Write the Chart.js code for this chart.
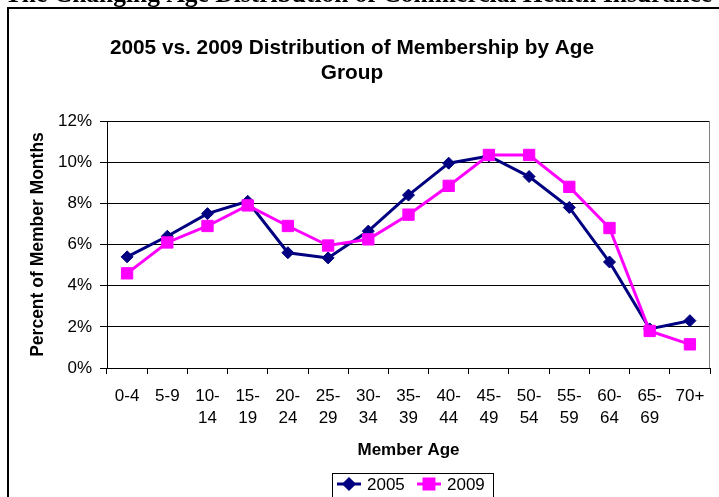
<!DOCTYPE html>
<html>
<head>
<meta charset="utf-8">
<script src="https://cdn.jsdelivr.net/npm/chart.js@4.4.0/dist/chart.umd.min.js"></script>
<style>
  html, body { margin: 0; padding: 0; background: #fff; overflow: hidden; }
  #wrap { width: 719px; height: 497px; }
</style>
</head>
<body>
<div id="wrap"><canvas id="ageChart" width="719" height="497"></canvas></div>
<script>
const ageGroups = ['0-4', '5-9', ['10-', '14'], ['15-', '19'], ['20-', '24'], ['25-', '29'], ['30-', '34'],
    ['35-', '39'], ['40-', '44'], ['45-', '49'], ['50-', '54'], ['55-', '59'], ['60-', '64'], ['65-', '69'], '70+'];
const share2005 = [5.4, 6.4, 7.5, 8.1, 5.6, 5.35, 6.65, 8.4, 9.95, 10.3, 9.3, 7.8, 5.15, 1.9, 2.3];
const share2009 = [4.6, 6.1, 6.9, 7.9, 6.9, 5.95, 6.25, 7.45, 8.85, 10.35, 10.35, 8.8, 6.8, 1.8, 1.15];
const yTicks = [0, 2, 4, 6, 8, 10, 12];
const titleLines = ['2005 vs. 2009 Distribution of Membership by Age', 'Group'];

const FONT = 'Arial, "Liberation Sans", sans-serif';

// page heading (cut off at the top), outer frame, chart title, plot right edge, legend box
const decorations = {
    id: 'decorations',
    beforeDraw(chart) {
        const ctx = chart.ctx;
        ctx.save();
        ctx.fillStyle = '#fff';
        ctx.fillRect(0, 0, chart.width, chart.height);
        ctx.fillStyle = '#000';
        ctx.font = 'bold 25.5px "Times New Roman", "Liberation Serif", serif';
        ctx.textAlign = 'right';
        ctx.textBaseline = 'alphabetic';
        ctx.fillText('The Changing Age Distribution of Commercial Health Insurance', 712, 2);
        ctx.strokeStyle = '#000';
        ctx.lineWidth = 2;
        ctx.strokeRect(8, 8, 800, 600);

        ctx.font = 'bold 20.8px ' + FONT;
        ctx.textAlign = 'center';
        ctx.textBaseline = 'middle';
        titleLines.forEach((t, i) => ctx.fillText(t, 352, 48 + i * 25));
        ctx.restore();
    },
    afterDraw(chart) {
        const ctx = chart.ctx;
        const a = chart.chartArea;
        ctx.save();
        ctx.strokeStyle = '#808080';
        ctx.lineWidth = 1;
        ctx.beginPath();
        ctx.moveTo(a.right - 0.5, a.top);
        ctx.lineTo(a.right - 0.5, a.bottom);
        ctx.stroke();

        // legend
        ctx.strokeStyle = '#000';
        ctx.strokeRect(332.5, 473.5, 161, 40);
        const cy = 484;
        const items = [
            { x: 337, label: '2005', color: '#000080', style: 'rectRot', r: 5 },
            { x: 417, label: '2009', color: '#FF00FF', style: 'rect', r: 7 }
        ];
        ctx.font = '17px ' + FONT;
        ctx.textBaseline = 'middle';
        ctx.textAlign = 'left';
        items.forEach(it => {
            ctx.strokeStyle = it.color;
            ctx.lineWidth = 3;
            ctx.beginPath();
            ctx.moveTo(it.x, cy);
            ctx.lineTo(it.x + 24, cy);
            ctx.stroke();
            ctx.fillStyle = it.color;
            Chart.helpers.drawPoint(ctx, { pointStyle: it.style, radius: it.r, borderWidth: 1 }, it.x + 12, cy);
            ctx.fill();
            ctx.fillStyle = '#000';
            ctx.fillText(it.label, it.x + 30, cy + 1);
        });
        ctx.restore();
    }
};

new Chart(document.getElementById('ageChart'), {
    type: 'line',
    data: {
        labels: ageGroups,
        datasets: [
            {
                label: '2005',
                data: share2005,
                borderColor: '#000080',
                backgroundColor: '#000080',
                borderWidth: 3,
                pointStyle: 'rectRot',
                pointRadius: 6,
                pointBorderWidth: 1,
                tension: 0,
                order: 1
            },
            {
                label: '2009',
                data: share2009,
                borderColor: '#FF00FF',
                backgroundColor: '#FF00FF',
                borderWidth: 3,
                pointStyle: 'rect',
                pointRadius: 8,
                pointBorderWidth: 1,
                tension: 0,
                order: 0
            }
        ]
    },
    options: {
        responsive: false,
        animation: false,
        layout: { padding: { left: 0, right: 2, top: 121, bottom: 0 } },
        plugins: {
            legend: { display: false },
            tooltip: { enabled: false },
            title: { display: false }
        },
        scales: {
            x: {
                offset: true,
                grid: { display: true, drawOnChartArea: false, drawTicks: true, tickLength: 6, offset: true, color: '#000' },
                border: { display: true, color: '#000', width: 1 },
                ticks: { color: '#000', font: { family: FONT, size: 17, lineHeight: 1.31 }, padding: 11, maxRotation: 0, autoSkip: false },
                title: { display: true, text: 'Member Age', color: '#000', font: { family: FONT, size: 17, weight: 'bold', lineHeight: 1.2 }, padding: { top: 0, bottom: 36 } },
                afterFit(scale) { scale.height = 129; }
            },
            y: {
                min: 0,
                max: 12,
                afterBuildTicks(scale) { scale.ticks = yTicks.map(v => ({ value: v })); },
                grid: { color: '#000', lineWidth: 1, drawTicks: true, tickLength: 7 },
                border: { display: true, color: '#000', width: 1 },
                ticks: { color: '#000', font: { family: FONT, size: 17 }, padding: 8, callback: v => v + '%' },
                title: { display: true, text: 'Percent of Member Months', color: '#000', font: { family: FONT, size: 17.5, weight: 'bold', lineHeight: 1.2 }, padding: { top: 28, bottom: 0 } },
                afterFit(scale) { scale.width = 107; }
            }
        }
    },
    plugins: [decorations]
});
</script>
</body>
</html>
